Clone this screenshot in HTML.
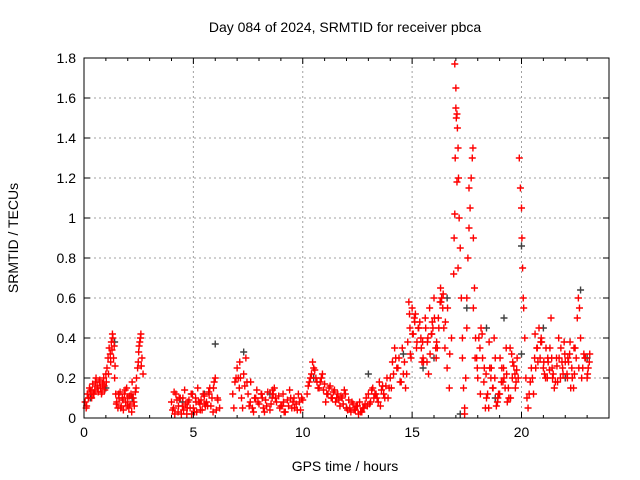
<!DOCTYPE html>
<html><head><meta charset="utf-8"><style>
body{margin:0;background:#fff;}
svg{display:block;font-family:"Liberation Sans",sans-serif;}
</style></head><body>
<svg id="chart" width="640" height="480">
<text x="345" y="32" text-anchor="middle" font-size="14">Day 084 of 2024, SRMTID for receiver pbca</text>
<g id="grid"></g>
<g id="black"></g>
<g id="red"></g>
<rect x="84" y="58" width="525" height="360" fill="none" stroke="#000" stroke-width="1"/>
<g id="axes"></g>
<text x="345" y="471" text-anchor="middle" font-size="14">GPS time / hours</text>
<text transform="translate(18,238) rotate(-90)" text-anchor="middle" font-size="14">SRMTID / TECUs</text>
</svg>
<script>
const xTicks=[0,5,10,15,20];
const yTicks=[0,0.2,0.4,0.6,0.8,1,1.2,1.4,1.6,1.8];
const yTickLabels=["0","0.2","0.4","0.6","0.8","1","1.2","1.4","1.6","1.8"];
const redTimes=[0.05,0.1,0.15,0.2,0.25,0.3,0.35,0.4,0.45,0.5,0.55,0.6,0.65,0.7,0.75,0.8,0.85,0.9,0.95,1.0,1.05,1.1,1.15,1.2,1.25,1.3,1.35,1.4,1.45,1.5,1.55,1.6,1.65,1.7,1.75,1.8,1.85,1.9,1.95,2.0,2.05,2.1,2.15,2.2,2.25,2.3,2.35,2.4,2.45,2.5,2.55,2.6,2.65,2.7,
4.0,4.1,4.2,4.3,4.4,4.5,4.6,4.7,4.8,4.9,5.0,5.1,5.2,5.3,5.4,5.5,5.6,5.7,5.8,5.9,6.0,6.1,6.2,4.15,4.35,4.55,4.75,4.95,5.15,5.35,5.55,5.75,5.95,
6.8,6.9,7.0,7.1,7.2,7.3,7.4,7.5,7.6,7.7,7.8,7.9,8.0,8.1,8.2,8.3,8.4,8.5,8.6,8.7,8.8,8.9,9.0,9.1,9.2,9.3,9.4,9.5,9.6,9.7,9.8,9.9,10.0,7.05,7.25,7.45,7.85,8.25,8.65,9.05,9.45,9.85,
10.2,10.3,10.4,10.5,10.6,10.7,10.8,10.9,11.0,11.1,11.2,11.3,11.4,11.5,11.6,11.7,11.8,11.9,12.0,12.1,12.2,12.3,12.4,12.5,12.6,12.7,12.8,12.9,13.0,13.1,13.2,13.3,13.4,13.5,13.6,13.7,13.8,13.9,10.45,10.75,11.05,11.55,12.05,12.55,13.05,13.55,
14.0,14.1,14.2,14.3,14.4,14.5,14.6,14.7,14.8,14.9,15.0,15.1,15.2,15.3,15.4,15.5,15.6,15.7,15.8,15.9,16.0,16.1,16.2,16.3,16.4,16.5,16.6,16.7,16.8,14.85,14.95,15.05,15.35,15.45,15.75,15.95,16.15,16.35,16.45,
16.9,16.92,16.95,16.97,17.0,17.02,17.05,17.07,17.1,17.12,17.15,17.2,17.25,17.3,17.35,17.4,17.45,17.5,17.55,17.6,17.65,17.7,17.75,17.78,17.8,17.85,17.9,17.95,16.95,17.0,17.05,17.1,17.3,17.4,17.5,17.6,17.8,
18.0,18.1,18.2,18.3,18.4,18.5,18.6,18.7,18.8,18.9,19.0,19.1,19.2,19.3,19.4,19.5,19.6,19.7,19.8,18.15,18.35,18.55,18.75,18.95,19.15,19.35,19.55,19.75,
19.9,19.95,20.0,20.02,20.05,20.08,20.1,20.15,20.2,20.25,20.3,20.35,20.4,20.45,20.5,
20.6,20.7,20.8,20.9,21.0,21.1,21.2,21.3,21.4,21.5,21.6,21.7,21.8,21.9,22.0,22.1,22.2,22.3,22.4,22.5,22.55,22.6,22.65,22.7,22.8,22.9,23.0,23.1,20.75,21.05,21.35,21.65,21.95,22.25,22.85,23.05,
0.12,0.22,0.32,0.42,0.52,0.62,0.72,0.82,0.92,1.02,1.12,1.22,1.28,1.32,1.38,1.42,1.48,1.58,1.68,1.78,1.88,1.98,2.08,2.18,2.28,2.38,2.48,2.52,2.58,2.62,
4.05,4.25,4.45,4.65,4.85,5.05,5.25,5.45,5.65,5.85,6.05,4.12,4.32,4.52,4.72,4.92,5.12,5.32,5.52,5.72,5.92,6.12,
6.85,6.95,7.15,7.35,7.55,7.75,7.95,8.15,8.35,8.55,8.75,8.95,9.15,9.35,9.55,9.75,9.95,7.12,7.62,8.12,8.62,9.12,9.62,
10.25,10.35,10.55,10.65,10.85,10.95,11.15,11.25,11.35,11.45,11.65,11.75,11.85,11.95,12.15,12.25,12.35,12.45,12.65,12.75,12.85,12.95,13.15,13.25,13.35,13.45,13.65,13.75,13.85,13.95,
14.05,14.15,14.25,14.35,14.45,14.55,14.65,14.75,14.88,15.02,15.12,15.22,15.28,15.42,15.52,15.62,15.72,15.82,15.92,16.02,16.12,16.22,16.32,16.42,16.52,16.62,16.72,14.92,15.15,15.48,15.68,15.88,16.08,16.28,
17.88,17.98,18.05,18.12,18.22,18.28,18.38,18.45,18.52,18.62,18.68,18.78,18.85,18.92,19.02,19.08,19.18,19.25,19.32,19.42,19.48,19.58,19.65,19.72,19.78,19.85,
20.55,20.65,20.72,20.85,20.92,21.02,21.12,21.18,21.28,21.38,21.45,21.55,21.62,21.72,21.78,21.88,21.98,22.08,22.15,22.22,22.32,22.38,22.45,22.62,22.75,22.92,23.02,23.12,20.62,20.88,21.22,21.42,21.85,22.12,22.42];
const redValues=[0.08,0.05,0.12,0.1,0.15,0.13,0.1,0.17,0.12,0.14,0.2,0.16,0.13,0.18,0.15,0.12,0.17,0.2,0.14,0.22,0.25,0.3,0.35,0.32,0.38,0.42,0.3,0.2,0.12,0.08,0.05,0.1,0.13,0.06,0.1,0.04,0.12,0.08,0.15,0.1,0.05,0.07,0.12,0.18,0.1,0.06,0.13,0.2,0.25,0.33,0.38,0.42,0.3,0.22,
0.08,0.05,0.12,0.03,0.1,0.06,0.14,0.02,0.09,0.12,0.05,0.1,0.15,0.07,0.04,0.11,0.08,0.13,0.06,0.03,0.2,0.1,0.05,0.02,0.1,0.04,0.08,0.12,0.03,0.09,0.06,0.15,0.18,
0.12,0.18,0.25,0.15,0.1,0.22,0.3,0.12,0.08,0.05,0.1,0.14,0.07,0.12,0.05,0.09,0.13,0.04,0.1,0.15,0.08,0.11,0.06,0.12,0.03,0.09,0.14,0.05,0.1,0.07,0.12,0.04,0.09,0.2,0.05,0.18,0.1,0.03,0.12,0.06,0.1,0.08,
0.12,0.18,0.22,0.25,0.2,0.15,0.18,0.22,0.17,0.12,0.15,0.1,0.13,0.08,0.12,0.06,0.1,0.14,0.05,0.09,0.03,0.07,0.04,0.06,0.08,0.03,0.05,0.1,0.12,0.08,0.15,0.12,0.1,0.18,0.14,0.12,0.16,0.1,0.28,0.15,0.08,0.1,0.04,0.02,0.07,0.06,
0.2,0.28,0.35,0.25,0.3,0.18,0.22,0.15,0.38,0.45,0.55,0.5,0.35,0.45,0.4,0.3,0.5,0.38,0.55,0.42,0.6,0.3,0.5,0.65,0.55,0.35,0.25,0.15,0.4,0.58,0.3,0.42,0.48,0.28,0.22,0.45,0.35,0.6,0.45,
0.72,0.9,1.02,1.3,1.55,1.5,1.52,1.45,1.35,1.2,1.0,0.85,0.6,0.3,0.15,0.05,0.2,0.45,0.8,0.95,1.05,1.2,1.3,1.35,0.9,0.65,0.4,0.3,1.77,1.65,1.18,0.75,0.4,0.02,0.6,1.15,0.55,
0.2,0.35,0.42,0.25,0.1,0.05,0.2,0.15,0.3,0.08,0.12,0.25,0.2,0.35,0.15,0.1,0.28,0.22,0.3,0.45,0.05,0.25,0.4,0.12,0.18,0.08,0.32,0.18,
1.3,1.15,1.05,0.9,0.75,0.6,0.55,0.4,0.2,0.1,0.05,0.12,0.18,0.25,0.2,
0.3,0.35,0.45,0.4,0.25,0.2,0.3,0.35,0.25,0.15,0.3,0.4,0.35,0.22,0.28,0.2,0.32,0.25,0.35,0.3,0.5,0.6,0.55,0.4,0.25,0.3,0.2,0.28,0.28,0.22,0.5,0.18,0.38,0.15,0.32,0.25,
0.06,0.1,0.14,0.12,0.18,0.15,0.19,0.13,0.16,0.18,0.22,0.28,0.34,0.4,0.36,0.26,0.07,0.12,0.05,0.09,0.14,0.06,0.11,0.03,0.08,0.15,0.28,0.36,0.4,0.26,
0.04,0.09,0.02,0.07,0.05,0.03,0.08,0.12,0.06,0.1,0.04,0.13,0.06,0.1,0.05,0.02,0.08,0.04,0.07,0.12,0.15,0.09,
0.05,0.2,0.2,0.16,0.06,0.03,0.08,0.1,0.06,0.07,0.1,0.05,0.03,0.06,0.08,0.04,0.1,0.28,0.18,0.12,0.14,0.08,0.05,
0.16,0.2,0.24,0.18,0.2,0.14,0.12,0.16,0.1,0.14,0.09,0.11,0.07,0.12,0.05,0.08,0.04,0.06,0.03,0.05,0.07,0.06,0.14,0.1,0.12,0.08,0.16,0.1,0.2,0.15,
0.15,0.22,0.3,0.25,0.18,0.35,0.28,0.22,0.52,0.42,0.48,0.38,0.45,0.35,0.28,0.45,0.4,0.32,0.48,0.5,0.38,0.45,0.58,0.62,0.48,0.55,0.32,0.32,0.52,0.38,0.28,0.42,0.35,0.58,
0.3,0.25,0.4,0.12,0.3,0.18,0.22,0.12,0.38,0.25,0.15,0.2,0.06,0.1,0.3,0.18,0.25,0.15,0.22,0.1,0.35,0.2,0.26,0.15,0.24,0.2,
0.12,0.25,0.35,0.3,0.38,0.28,0.35,0.2,0.24,0.3,0.22,0.18,0.26,0.3,0.2,0.25,0.32,0.22,0.28,0.38,0.2,0.15,0.35,0.25,0.2,0.3,0.22,0.32,0.42,0.38,0.28,0.2,0.28,0.3,0.22];
const blackTimes=[0.3,1.0,1.4,2.2,4.5,5.5,6.0,7.3,8.5,10.5,12.0,13.0,14.6,15.5,16.0,16.6,17.2,17.5,18.4,18.8,19.2,20.0,20.0,21.0,22.0,22.7,23.0];
const blackValues=[0.1,0.15,0.38,0.1,0.08,0.12,0.37,0.33,0.12,0.2,0.05,0.22,0.32,0.25,0.3,0.6,0.02,0.55,0.45,0.1,0.5,0.86,0.32,0.45,0.2,0.64,0.3];
const ns="http://www.w3.org/2000/svg";
const X0=84,X1=609,Y0=418,Y1=58;
function xs(v){return X0+v/24*(X1-X0);}
function ys(v){return Y0-v/1.8*(Y0-Y1);}
function mk(tag,attrs,parent){const e=document.createElementNS(ns,tag);for(const k in attrs)e.setAttribute(k,attrs[k]);parent.appendChild(e);return e;}
const grid=document.getElementById('grid'),axes=document.getElementById('axes');
xTicks.forEach(t=>{const x=xs(t);
 if(t>0){const g=mk('line',{x1:x,x2:x,y1:Y0,y2:Y1,stroke:'#a0a0a0','stroke-dasharray':'2,3'},grid);}
 const l=mk('text',{x:x,y:Y0+19,'text-anchor':'middle','font-size':'14'},axes);l.textContent=String(t);
 
 
 mk('line',{x1:x,x2:x,y1:Y0,y2:Y0-6,stroke:'#000'},axes);mk('line',{x1:x,x2:x,y1:Y1,y2:Y1+6,stroke:'#000'},axes);
});
for(let m=1;m<24;m++){if(m%5){const x=xs(m);mk('line',{x1:x,x2:x,y1:Y0,y2:Y0-3,stroke:'#000'},axes);mk('line',{x1:x,x2:x,y1:Y1,y2:Y1+3,stroke:'#000'},axes);}}
yTicks.forEach((t,i)=>{const y=ys(t);
 if(t>0&&t<1.8){const g=mk('line',{x1:X0,x2:X1,y1:y,y2:y,stroke:'#a0a0a0','stroke-dasharray':'2,3'},grid);}
 const l=mk('text',{x:X0-8,y:y+5,'text-anchor':'end','font-size':'14'},axes);l.textContent=yTickLabels[i];
 
 
 mk('line',{x1:X0,x2:X0+6,y1:y,y2:y,stroke:'#000'},axes);mk('line',{x1:X1,x2:X1-6,y1:y,y2:y,stroke:'#000'},axes);
});
function plus(g,t,v,c){const x=xs(t),y=ys(v);const p=mk('path',{d:`M${x-3.5},${y}h7M${x},${y-3.5}v7`,stroke:c,'stroke-width':'1.4',fill:'none'},g);
 
 }
const bg=document.getElementById('black'),rg=document.getElementById('red');
blackTimes.forEach((t,i)=>plus(bg,t,blackValues[i],'#404040'));
redTimes.forEach((t,i)=>plus(rg,t,redValues[i],'#ff0000'));
</script>
</body></html>
